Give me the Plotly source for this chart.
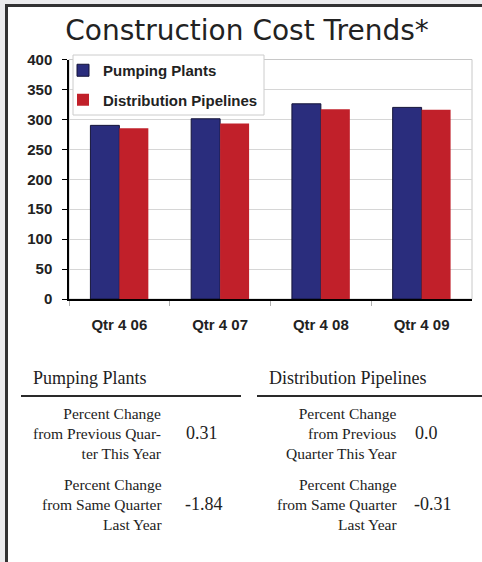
import plotly.graph_objects as go

W, H = 482, 562

categories = ["Qtr 4 06", "Qtr 4 07", "Qtr 4 08", "Qtr 4 09"]
pumping_plants = [290, 301, 326, 320]
distribution_pipelines = [285, 293, 317, 316]
y_ticks = [0, 50, 100, 150, 200, 250, 300, 350, 400]

pp_change_prev_quarter = "0.31"
pp_change_same_quarter = "-1.84"
dp_change_prev_quarter = "0.0"
dp_change_same_quarter = "-0.31"


def X(px):
    return px / W


def Y(py):
    return 1 - py / H


BLUE = "#2a2d7d"
RED = "#c1202a"
TXT = "#222222"
SANS = "Liberation Sans, Arial, sans-serif"
SERIF = "Liberation Serif, Times New Roman, serif"

fig = go.Figure()
fig.add_trace(go.Bar(
    x=categories, y=pumping_plants, name="Pumping Plants",
    marker=dict(color=BLUE, line=dict(color="#15153a", width=1)),
    legendgroup="a",
))
fig.add_trace(go.Bar(
    x=categories, y=distribution_pipelines, name="Distribution Pipelines",
    marker=dict(color=RED, line=dict(width=0)),
    legendgroup="b",
))

shapes = [
    # outer light background strips
    dict(type="rect", xref="paper", yref="paper", x0=0, x1=1, y0=Y(4), y1=1,
         fillcolor="#ececee", line=dict(width=0), layer="below"),
    dict(type="rect", xref="paper", yref="paper", x0=0, x1=X(5), y0=0, y1=1,
         fillcolor="#ececee", line=dict(width=0), layer="below"),
    # dark frame
    dict(type="line", xref="paper", yref="paper", x0=X(5), x1=1, y0=Y(5.5), y1=Y(5.5),
         line=dict(color="#333333", width=3)),
    dict(type="line", xref="paper", yref="paper", x0=X(6.5), x1=X(6.5), y0=0, y1=Y(4),
         line=dict(color="#333333", width=3)),
    # plot area border (light)
    dict(type="rect", xref="paper", yref="paper", x0=X(69), x1=X(472), y0=Y(299), y1=Y(59.5),
         line=dict(color="#c8c8c8", width=1), layer="below"),
    # legend box
    dict(type="rect", xref="paper", yref="paper", x0=X(73), x1=X(264), y0=Y(115), y1=Y(55),
         fillcolor="white", line=dict(color="#cccccc", width=1), layer="above"),
    # table header rules
    dict(type="line", xref="paper", yref="paper", x0=X(21), x1=X(241), y0=Y(396), y1=Y(396),
         line=dict(color="#2a2a2a", width=2)),
    dict(type="line", xref="paper", yref="paper", x0=X(257), x1=1, y0=Y(396), y1=Y(396),
         line=dict(color="#2a2a2a", width=2)),
]

annotations = []


def ann(text, x, y, size, xanchor="left", align="left", font=SERIF):
    annotations.append(dict(
        text=text, xref="paper", yref="paper", x=X(x), y=Y(y),
        xanchor=xanchor, yanchor="middle", align=align, showarrow=False,
        font=dict(family=font, size=size, color=TXT),
    ))


ann("Pumping Plants", 31, 378, 18)
ann("Distribution Pipelines", 267, 378, 18)
ann("Percent Change<br>from Previous Quar-<br>ter This Year", 164, 433, 15.5, "right", "right")
ann("Percent Change<br>from Same Quarter<br>Last Year", 164, 504, 15.5, "right", "right")
ann("Percent Change<br>from Previous<br>Quarter This Year", 399, 433, 15.5, "right", "right")
ann("Percent Change<br>from Same Quarter<br>Last Year", 399, 504, 15.5, "right", "right")
ann(pp_change_prev_quarter, 184, 433, 18)
ann(pp_change_same_quarter, 183, 504, 18)
ann(dp_change_prev_quarter, 413, 433, 18)
ann(dp_change_same_quarter, 412, 504, 18)

fig.update_layout(
    width=W, height=H,
    margin=dict(l=0, r=0, t=0, b=0, autoexpand=False),
    paper_bgcolor="white", plot_bgcolor="white",
    barmode="group", bargap=0.425, bargroupgap=0,
    title=dict(
        text="Construction Cost Trends*",
        x=X(247), xanchor="center", y=Y(30), yanchor="middle",
        xref="paper", yref="container",
        font=dict(family="DejaVu Sans, sans-serif", size=28, color=TXT),
    ),
    xaxis=dict(
        domain=[X(69), X(472)],
        showline=True, linecolor="black", linewidth=1.5,
        ticks="outside", tickson="boundaries", ticklen=5, tickcolor="#b0b0b0",
        tickfont=dict(family=SANS, size=15, color=TXT, weight="bold"),
        ticklabelstandoff=11,
        showgrid=False,
    ),
    yaxis=dict(
        domain=[Y(299), Y(59.5)],
        range=[0, 400], tickvals=y_ticks,
        showline=True, linecolor="black", linewidth=1.5,
        ticks="outside", ticklen=5, tickcolor="black",
        tickfont=dict(family=SANS, size=15, color=TXT, weight="bold"),
        ticklabelstandoff=7,
        showgrid=True, gridcolor="#d6d6d6", gridwidth=1,
        zeroline=False,
    ),
    legend=dict(
        x=X(63), y=Y(54), xanchor="left", yanchor="top",
        bgcolor="rgba(0,0,0,0)", borderwidth=0,
        font=dict(family=SANS, size=15, color=TXT, weight="bold"),
        traceorder="grouped", tracegroupgap=7,
    ),
    shapes=shapes,
    annotations=annotations,
)

fig.write_html("out.html")
